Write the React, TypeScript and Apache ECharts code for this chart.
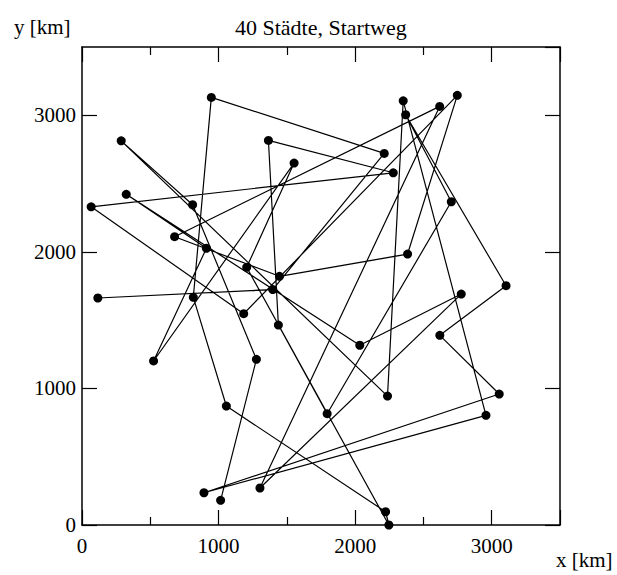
import { useEffect, useRef } from "react";
import * as echarts from "echarts";

// City coordinates in visiting order of the start route (km)
const tourX = [
  116, 1397, 2213, 947, 815, 1057, 2223, 2247, 1206, 1553,
  524, 911, 324, 2034, 2777, 1303, 2619, 678, 1446, 2384,
  2748, 1184, 67, 2279, 1365, 1438, 1795, 2704, 2370, 3105,
  2620, 3055, 893, 2958, 2352, 2237, 287, 810, 1277, 1015,
];
const tourY = [
  1662, 1724, 2721, 3131, 1667, 871, 97, 0, 1887, 2650,
  1201, 2026, 2421, 1316, 1691, 271, 3065, 2111, 1821, 1984,
  3146, 1547, 2330, 2579, 2816, 1464, 815, 2367, 3004, 1752,
  1389, 959, 236, 803, 3106, 944, 2813, 2345, 1213, 181,
];

const axisMin = 0;
const axisMax = 3500;
const tickStep = 1000;

const titleText = "40 Städte, Startweg";
const xName = "x [km]";
const yName = "y [km]";

export default function App() {
  const ref = useRef<HTMLDivElement>(null);
  useEffect(() => {
    document.body.style.margin = "0";
    const chart = echarts.init(ref.current!, null, { renderer: "svg" });
    const font = "'Liberation Serif', 'DejaVu Serif', serif";
    const black = "#000";
    const axisCommon: any = {
      type: "value",
      min: axisMin,
      max: axisMax,
      interval: tickStep,
      axisLine: { show: true, onZero: false, lineStyle: { color: black, width: 1.5 } },
      axisTick: { show: true, inside: true, length: 15, lineStyle: { color: black, width: 1.2 } },
      splitLine: { show: false },
    };
    const minor = { show: true, splitNumber: 2, length: 8, lineStyle: { color: black, width: 1.2 } };
    const labelStyle = {
      fontSize: 21,
      fontFamily: font,
      color: black,
      formatter: (v: number) => String(v),
    };
    chart.setOption({
      animation: false,
      title: {
        text: titleText,
        left: 235,
        top: 16,
        padding: 0,
        textStyle: { fontSize: 22, fontFamily: font, fontWeight: "normal", color: black },
      },
      grid: { left: 82, top: 47, width: 478, height: 478 },
      xAxis: [
        {
          ...axisCommon,
          position: "bottom",
          minorTick: minor,
          axisLabel: { show: true, margin: 10, showMaxLabel: false, ...labelStyle },
        },
        {
          ...axisCommon,
          position: "top",
          minorTick: minor,
          axisLabel: { show: false },
        },
      ],
      yAxis: [
        {
          ...axisCommon,
          position: "left",
          axisLabel: { show: true, margin: 6, showMaxLabel: false, ...labelStyle },
        },
        {
          ...axisCommon,
          position: "right",
          axisLabel: { show: false },
        },
      ],
      graphic: [
        {
          type: "text",
          left: 14,
          top: 16,
          style: { text: yName, font: `21px ${font}`, fill: black },
        },
        {
          type: "text",
          left: 556,
          top: 549,
          style: { text: xName, font: `21px ${font}`, fill: black },
        },
      ],
      series: [
        {
          type: "line",
          xAxisIndex: 0,
          yAxisIndex: 0,
          data: tourX.map((x, i) => [x, tourY[i]]),
          symbol: "circle",
          symbolSize: 9,
          showSymbol: true,
          showAllSymbol: true,
          clip: false,
          itemStyle: { color: black },
          lineStyle: { color: black, width: 1.2 },
          z: 5,
        },
      ],
    });
    return () => chart.dispose();
  }, []);
  return <div ref={ref} style={{ width: 617, height: 575 }} />;
}
